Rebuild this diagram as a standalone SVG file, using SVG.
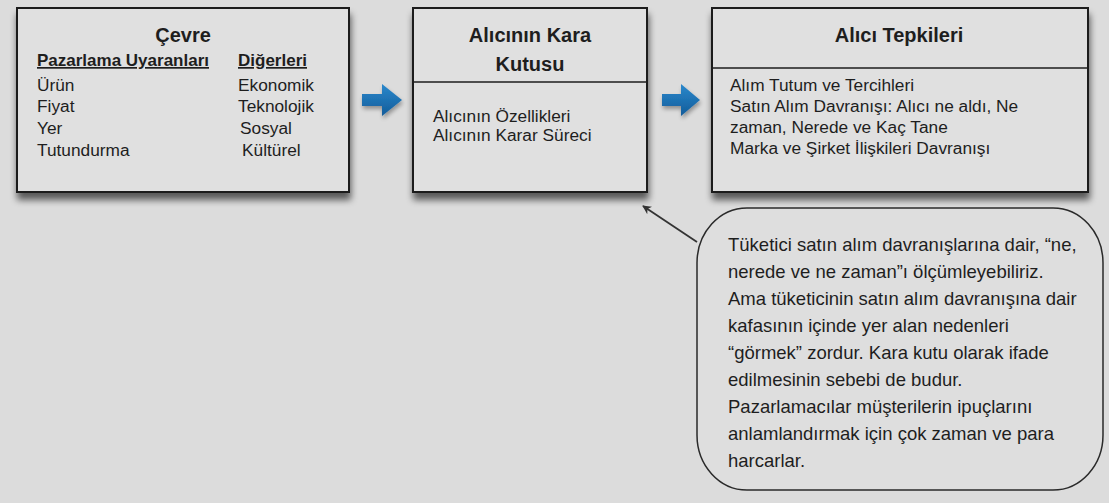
<svg xmlns="http://www.w3.org/2000/svg" width="1109" height="503" viewBox="0 0 1109 503">
<defs>
<style>
.box{fill:#e0e0e0;stroke:#1e1e1e;stroke-width:2}
.div{stroke:#1e1e1e;stroke-width:1.5}
.t{font-family:"Liberation Sans",Arial,sans-serif;font-size:17.3px;fill:#1e1e1e}
.c{font-family:"Liberation Sans",Arial,sans-serif;font-size:18.5px;fill:#1e1e1e}
.h{font-family:"Liberation Sans",Arial,sans-serif;font-size:20px;font-weight:bold;fill:#1e1e1e;text-anchor:middle}
.u{text-decoration:underline;font-weight:bold;font-size:17px}
.blue{fill:url(#bg);filter:url(#bsh)}
</style>
<filter id="sh" x="-5%" y="-10%" width="110%" height="130%">
<feGaussianBlur in="SourceAlpha" stdDeviation="3.5"/>
<feOffset dx="1" dy="7"/>
<feComponentTransfer><feFuncA type="linear" slope="0.6"/></feComponentTransfer>
<feMerge><feMergeNode/><feMergeNode in="SourceGraphic"/></feMerge>
</filter>
<filter id="bsh" x="-30%" y="-30%" width="160%" height="170%">
<feGaussianBlur in="SourceAlpha" stdDeviation="2"/>
<feOffset dx="1" dy="3"/>
<feComponentTransfer><feFuncA type="linear" slope="0.35"/></feComponentTransfer>
<feMerge><feMergeNode/><feMergeNode in="SourceGraphic"/></feMerge>
</filter>
<linearGradient id="bg" x1="0" y1="0" x2="0" y2="1">
<stop offset="0" stop-color="#2a88cc"/>
<stop offset="1" stop-color="#135c9a"/>
</linearGradient>
<marker id="ah" viewBox="0 0 10 10" refX="9" refY="5" markerWidth="9" markerHeight="9" orient="auto-start-reverse" markerUnits="userSpaceOnUse">
<path d="M0,0 L10,5 L0,10 L3,5 z" fill="#333"/>
</marker>
</defs>
<rect width="1109" height="503" fill="#dcdcdc"/>

<g id="cevre">
<rect class="box" x="17" y="8" width="332" height="184" filter="url(#sh)"/>
<text class="h" x="183" y="42">Çevre</text>
<text class="t u" x="37" y="66">Pazarlama Uyaranları</text>
<text class="t u" x="238" y="66">Diğerleri</text>
<text class="t" x="37" y="91">Ürün</text>
<text class="t" x="37" y="112">Fiyat</text>
<text class="t" x="37" y="134">Yer</text>
<text class="t" x="37" y="156">Tutundurma</text>
<text class="t" x="238" y="91">Ekonomik</text>
<text class="t" x="238" y="112">Teknolojik</text>
<text class="t" x="240" y="134">Sosyal</text>
<text class="t" x="242" y="156">Kültürel</text>
</g>

<g id="kara-kutu">
<rect class="box" x="413" y="8" width="234" height="184" filter="url(#sh)"/>
<line class="div" x1="413" y1="82" x2="647" y2="82"/>
<text class="h" x="530" y="42">Alıcının Kara</text>
<text class="h" x="530" y="71">Kutusu</text>
<text class="t" x="433" y="122">Alıcının Özellikleri</text>
<text class="t" x="433" y="141">Alıcının Karar Süreci</text>
</g>

<g id="tepkiler">
<rect class="box" x="712" y="8" width="376" height="184" filter="url(#sh)"/>
<line class="div" x1="712" y1="68" x2="1088" y2="68"/>
<text class="h" x="899" y="42">Alıcı Tepkileri</text>
<text class="t" x="730" y="91">Alım Tutum ve Tercihleri</text>
<text class="t" x="730" y="112">Satın Alım Davranışı: Alıcı ne aldı, Ne</text>
<text class="t" x="730" y="133">zaman, Nerede ve Kaç Tane</text>
<text class="t" x="730" y="154">Marka ve Şirket İlişkileri Davranışı</text>
</g>

<g id="not">
<rect x="697" y="208" width="406" height="282" rx="50" ry="55" fill="#dedede" stroke="#2a2a2a" stroke-width="1.5"/>
<text class="c" x="728" y="251">Tüketici satın alım davranışlarına dair, “ne,</text>
<text class="c" x="728" y="278">nerede ve ne zaman”ı ölçümleyebiliriz.</text>
<text class="c" x="728" y="305">Ama tüketicinin satın alım davranışına dair</text>
<text class="c" x="728" y="332">kafasının içinde yer alan nedenleri</text>
<text class="c" x="728" y="359">“görmek” zordur. Kara kutu  olarak ifade</text>
<text class="c" x="728" y="386">edilmesinin sebebi de budur.</text>
<text class="c" x="728" y="413">Pazarlamacılar müşterilerin ipuçlarını</text>
<text class="c" x="728" y="440">anlamlandırmak için çok zaman ve para</text>
<text class="c" x="728" y="467">harcarlar.</text>
</g>

<g id="connectors">
<polygon class="blue" points="362,94 382,94 382,84 402,100 382,116 382,106 362,106"/>
<polygon class="blue" points="662,94 681,94 681,84 700,100 681,116 681,106 662,106"/>
<line x1="697" y1="242" x2="643" y2="206" stroke="#333" stroke-width="1.8" marker-end="url(#ah)"/>
</g>
</svg>
